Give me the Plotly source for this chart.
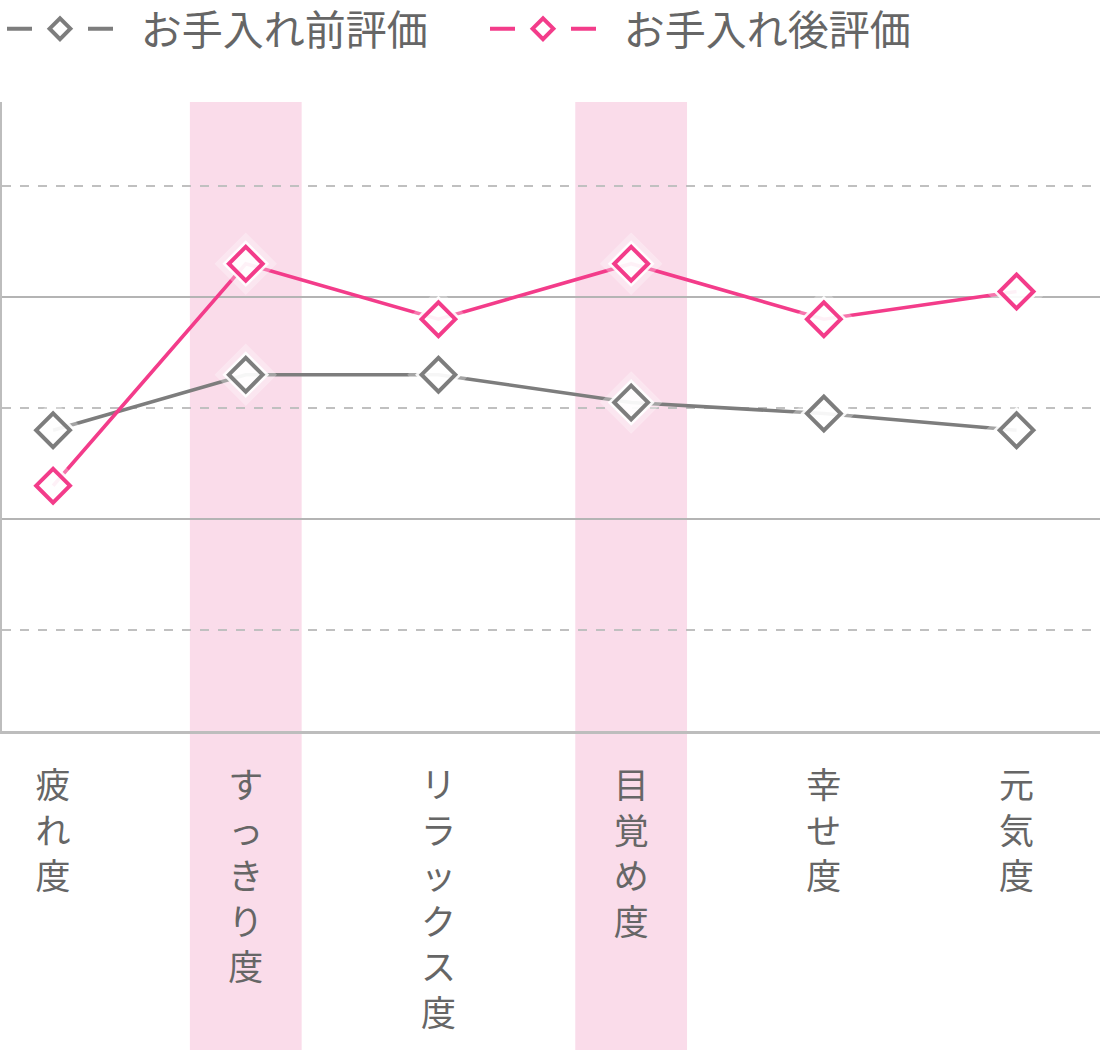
import plotly.graph_objects as go

categories = ["疲れ度", "すっきり度", "リラックス度", "目覚め度", "幸せ度", "元気度"]
before_vals = [2.8, 3.3, 3.3, 3.05, 2.95, 2.8]
after_vals = [2.3, 4.3, 3.8, 4.3, 3.8, 4.05]
series_names = ["お手入れ前評価", "お手入れ後評価"]
highlight_idx = [1, 3]

GRAY = "#7d7d7d"
PINK = "#f33c8a"
BAND = "#fadcea"
FONT = "Liberation Sans, Noto Sans CJK JP, sans-serif"
TEXT = "#666666"

xs = list(range(len(categories)))
fig = go.Figure()

# lines
for vals, col in [(before_vals, GRAY), (after_vals, PINK)]:
    fig.add_trace(go.Scatter(x=xs, y=vals, mode="lines", showlegend=False,
                             line=dict(color=col, width=3.6), hoverinfo="skip"))
# halos
for vals in [before_vals, after_vals]:
    fig.add_trace(go.Scatter(x=xs, y=vals, mode="markers", showlegend=False,
                             marker=dict(symbol="diamond", size=48, color="rgba(255,255,255,0.3)",
                                         line=dict(width=0)), hoverinfo="skip"))
for vals in [before_vals, after_vals]:
    fig.add_trace(go.Scatter(x=xs, y=vals, mode="markers", showlegend=False,
                             marker=dict(symbol="diamond", size=36, color="rgba(255,255,255,0.9)",
                                         line=dict(width=0)), hoverinfo="skip"))
# markers
for vals, col, nm in [(before_vals, GRAY, series_names[0]), (after_vals, PINK, series_names[1])]:
    fig.add_trace(go.Scatter(x=xs, y=vals, mode="markers", showlegend=False, name=nm,
                             marker=dict(symbol="diamond-open", size=26, color=col,
                                         line=dict(width=4, color=col))))
# legend entries
for col, nm in [(GRAY, series_names[0]), (PINK, series_names[1])]:
    fig.add_trace(go.Scatter(x=[None], y=[None], mode="lines+markers",
                             name="\u00a0\u00a0" + nm,
                             line=dict(color=col, width=4, dash="25px,56px,25px"),
                             marker=dict(symbol="diamond", size=16, color="white",
                                         line=dict(width=4, color=col))))

for i in highlight_idx:
    fig.add_shape(type="rect", xref="x", yref="paper", x0=i - 0.29, x1=i + 0.29,
                  y0=-0.52, y1=1.0, fillcolor=BAND, line=dict(width=0), layer="below")

ticktext = ["<br>".join(list(c)) for c in categories]

fig.update_xaxes(range=[-0.265, 5.433], tickvals=xs, ticktext=ticktext,
                 showgrid=False, zeroline=False, showline=True, linecolor="#bdbdbd",
                 linewidth=3, ticks="", ticklabelstandoff=22,
                 tickfont=dict(family=FONT, size=35, color=TEXT))
fig.update_yaxes(range=[0.09, 5.757], dtick=2, tick0=0, showticklabels=False,
                 showgrid=True, gridcolor="#b4b4b4", gridwidth=2, zeroline=False,
                 showline=True, linecolor="#bdbdbd", linewidth=3,
                 minor=dict(dtick=1, tick0=0, showgrid=True, gridcolor="#c0c0c0",
                            gridwidth=2, griddash="dash"))

fig.update_layout(
    width=1100, height=1050,
    margin=dict(l=2, r=0, t=102, b=319, autoexpand=False),
    paper_bgcolor="white", plot_bgcolor="rgba(0,0,0,0)",
    font=dict(family=FONT, color=TEXT),
    legend=dict(orientation="h", x=0, xanchor="left", y=1.116, yanchor="middle",
                itemwidth=106, entrywidth=362, entrywidthmode="pixels",
                font=dict(family=FONT, size=41, color=TEXT), bgcolor="rgba(0,0,0,0)"),
    hovermode=False,
)

fig.write_html("out.html", config={"displayModeBar": False},
               post_script="document.body.style.margin='0';")
